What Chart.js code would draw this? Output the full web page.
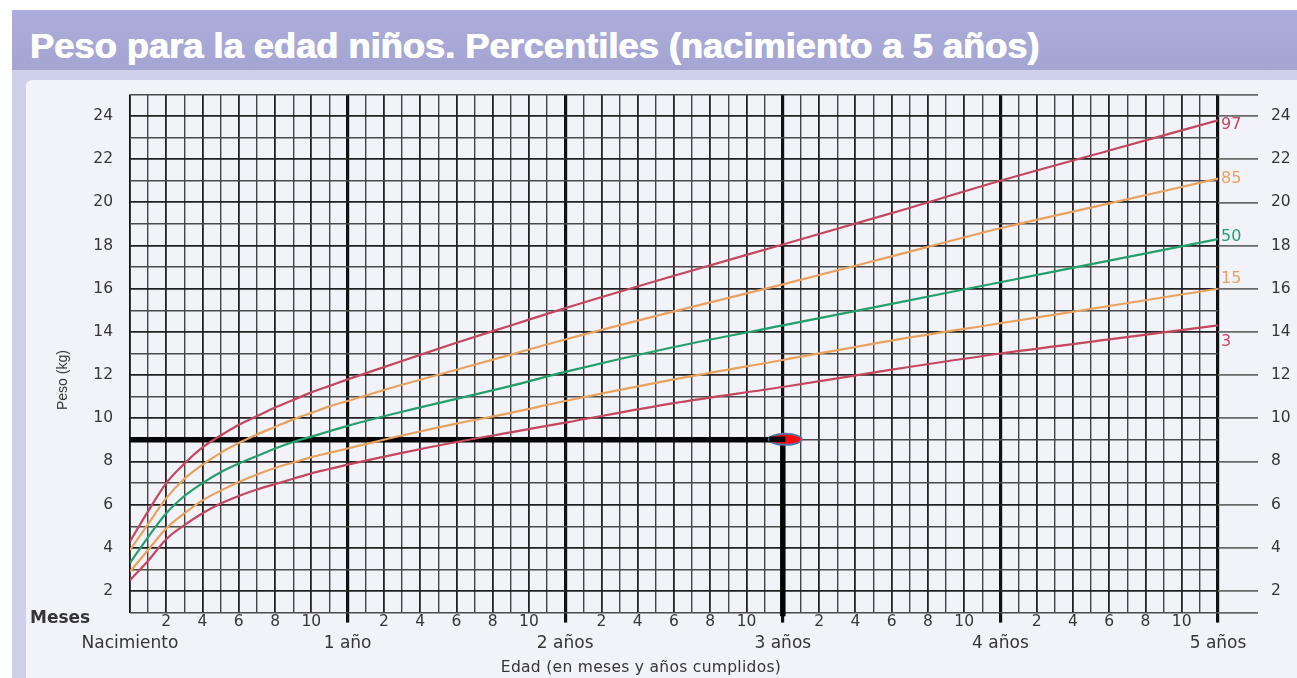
<!DOCTYPE html>
<html><head><meta charset="utf-8">
<script src="https://cdn.jsdelivr.net/npm/chart.js@4.4.1/dist/chart.umd.min.js"></script>
<style>
html,body{margin:0;padding:0;width:1297px;height:678px;overflow:hidden;background:#fff;font-family:"DejaVu Sans",sans-serif;}
#strip{position:absolute;left:12px;top:10px;width:1285px;height:668px;background:#cfd0ea;}
#titlebar{position:absolute;left:12px;top:10px;width:1285px;height:60px;background:linear-gradient(#acaddb,#a3a5d3);}
#title{position:absolute;left:30px;top:26px;color:#fff;font-family:"Liberation Sans",Arial,sans-serif;font-weight:bold;font-size:35px;white-space:nowrap;transform-origin:0 0;text-shadow:0.6px 0 #fff,-0.3px 0 #fff;}
#panel{position:absolute;left:26px;top:80px;width:1271px;height:598px;background:#f2f2f9;border-top-left-radius:6px;}
#c{position:absolute;left:0;top:0;}
.lbl{position:absolute;color:#363636;white-space:nowrap;}
#meses{left:30px;top:607px;font-weight:bold;font-size:17px;}
#ytitle{left:62px;top:380px;font-family:"Liberation Sans",Arial,sans-serif;font-size:14px;transform:translate(-50%,-50%) rotate(-90deg);}
#xtitle{left:641px;top:667px;font-size:15.5px;transform:translate(-50%,-50%);letter-spacing:0.3px;}
</style></head>
<body>
<div id="strip"></div>
<div id="titlebar"></div>
<div id="title">Peso para la edad niños. Percentiles (nacimiento a 5 años)</div>
<div id="panel"></div>
<canvas id="c" width="1297" height="678"></canvas>
<div class="lbl" id="meses">Meses</div>
<div class="lbl" id="ytitle">Peso (kg)</div>
<div class="lbl" id="xtitle">Edad (en meses y años cumplidos)</div>
<script>
// ---- data ----
const ageMonths = [0,1,2,3,4,5,6,7,8,9,10,11,12,15,18,21,24,30,36,42,48,54,60];
const p97 = [4.3,5.7,7.0,7.9,8.65,9.2,9.7,10.1,10.5,10.85,11.2,11.5,11.8,12.65,13.5,14.3,15.1,16.6,18.05,19.5,21.0,22.4,23.8];
const p85 = [3.9,5.1,6.3,7.2,7.85,8.4,8.85,9.25,9.6,9.95,10.25,10.55,10.8,11.55,12.25,12.95,13.65,14.95,16.2,17.5,18.8,19.95,21.1];
const p50 = [3.3,4.5,5.6,6.4,7.0,7.5,7.9,8.25,8.6,8.9,9.15,9.4,9.65,10.3,10.9,11.5,12.15,13.3,14.3,15.3,16.3,17.3,18.3];
const p15 = [2.9,3.9,4.9,5.6,6.2,6.65,7.05,7.4,7.7,7.95,8.2,8.4,8.6,9.2,9.75,10.25,10.8,11.8,12.7,13.6,14.4,15.2,16.0];
const p3  = [2.5,3.4,4.4,5.05,5.6,6.05,6.4,6.7,6.95,7.2,7.45,7.65,7.85,8.4,8.9,9.35,9.8,10.7,11.45,12.25,13.0,13.65,14.3];
const percentileNames = ['97','85','50','15','3'];
const yearLabels = ['Nacimiento','1 año','2 años','3 años','4 años','5 años'];
const monthLabels = ['2','4','6','8','10'];
const weightTicks = [2,4,6,8,10,12,14,16,18,20,22,24];
const markerAge = 36;     // months
const markerWeight = 9;   // kg

// ---- styles ----
const series = [p97,p85,p50,p15,p3];
const colors = ['#c4475f','#e9a25e','#23a06c','#e9a25e','#c4475f'];
const labelOffsets = [5,0,-2,-10,16];

const title = document.getElementById('title');
title.style.transform = 'scaleX(' + (1010/title.offsetWidth) + ')';

const datasets = series.map((s,i)=>({
  label: percentileNames[i],
  data: ageMonths.map((m,j)=>({x:m,y:s[j]})),
  borderColor: colors[i], borderWidth: 2.2, pointRadius: 0,
  cubicInterpolationMode: 'monotone', fill:false
}));
datasets.push({label:'h', data:[{x:0,y:markerWeight},{x:markerAge,y:markerWeight}],
  borderColor:'#050505', borderWidth:5.5, pointRadius:0, tension:0, borderCapStyle:'butt'});
datasets.push({label:'v', data:[{x:markerAge,y:markerWeight},{x:markerAge,y:0.83}],
  borderColor:'#050505', borderWidth:5.5, pointRadius:0, tension:0, clip:false, borderCapStyle:'butt'});

const labelPlugin = {
  id:'pct',
  afterDatasetsDraw(chart){
    const ctx = chart.ctx;
    ctx.save();
    ctx.font = '16px "DejaVu Sans"';
    ctx.textAlign='left'; ctx.textBaseline='middle';
    percentileNames.forEach((p,i)=>{
      const meta = chart.getDatasetMeta(i);
      const pt = meta.data[meta.data.length-1];
      ctx.fillStyle = colors[i];
      ctx.fillText(p, pt.x+3, pt.y+labelOffsets[i]);
    });
    const xs = chart.scales.x, ys = chart.scales.y;
    const cx = xs.getPixelForValue(markerAge)+2.5, cy = ys.getPixelForValue(markerWeight)-0.5;
    ctx.beginPath(); ctx.ellipse(cx,cy,17.5,6.5,0,0,Math.PI*2);
    ctx.fillStyle='#4f77ad'; ctx.fill();
    ctx.beginPath(); ctx.ellipse(cx,cy,15.5,4.5,0,0,Math.PI*2);
    ctx.fillStyle='#ff0a0a'; ctx.fill();
    ctx.fillStyle='#050505';
    ctx.fillRect(cx-16, cy-2.8, 16, 5.6);
    ctx.restore();
  }
};

new Chart(document.getElementById('c'), {
  type:'line',
  data:{datasets},
  plugins:[labelPlugin],
  options:{
    responsive:false, animation:false,
    layout:{padding:{top:94.4,left:0,right:0,bottom:0}},
    plugins:{legend:{display:false}, tooltip:{enabled:false}},
    scales:{
      x:{
        type:'linear', min:0, max:60, offset:false,
        border:{display:false},
        afterBuildTicks(s){ s.ticks = ageMonthsGrid(); },
        afterFit(s){ s.height = 65.4; },
        grid:{
          color:c=> c.tick.value%12===0 ? '#111' : (c.tick.value%2===0 ? '#222' : '#444'),
          lineWidth:c=> (c.tick.value%12===0 && c.tick.value>0) ? 3.2 : (c.tick.value%2===0 ? 1.8 : 1.4),
          tickLength:10,
          tickColor:c=> (c.tick.value%12===0 && c.tick.value>0) ? '#111' : 'rgba(0,0,0,0)',
          tickWidth:3.2
        },
        ticks:{
          autoSkip:false, maxRotation:0, minRotation:0, padding:-11,
          color:'#363636',
          font:c=> (c.tick && c.tick.value%12===0)
            ? {family:'"DejaVu Sans"', size:17, lineHeight:21/17}
            : {family:'"DejaVu Sans"', size:15.5, lineHeight:21/15.5},
          callback:v=>{
            if (v%12===0) return ['', yearLabels[v/12]];
            if ((v%12)%2===0) return monthLabels[(v%12)/2-1];
            return '';
          }
        }
      },
      y:{
        type:'linear', position:'left', min:1, max:25,
        border:{display:false},
        afterFit(s){ s.width = 130; },
        grid:{
          color:c=> c.tick.value%2===0 ? '#222' : '#4a4a4a',
          lineWidth:c=> c.tick.value%2===0 ? 1.8 : 1.4,
          drawTicks:false
        },
        ticks:{
          stepSize:1, autoSkip:false, padding:17, color:'#363636',
          font:{family:'"DejaVu Sans"', size:15.5},
          callback:v=> weightTicks.includes(v) ? String(v) : ''
        }
      },
      y2:{
        type:'linear', position:'right', min:1, max:25,
        border:{display:false},
        afterBuildTicks(s){ s.ticks = [s.min].concat(weightTicks, [s.max]).map(v=>({value:v})); },
        afterFit(s){ s.width = 79; },
        grid:{ drawOnChartArea:false, color:'#6a6a6a', lineWidth:1.7, tickLength:40 },
        ticks:{
          autoSkip:false, padding:13, color:'#363636',
          font:{family:'"DejaVu Sans"', size:15.5},
          callback:v=> weightTicks.includes(v) ? String(v) : ''
        }
      }
    }
  }
});
function ageMonthsGrid(){
  const t=[]; for(let m=0;m<=60;m++) t.push({value:m}); return t;
}
</script>
</body></html>
